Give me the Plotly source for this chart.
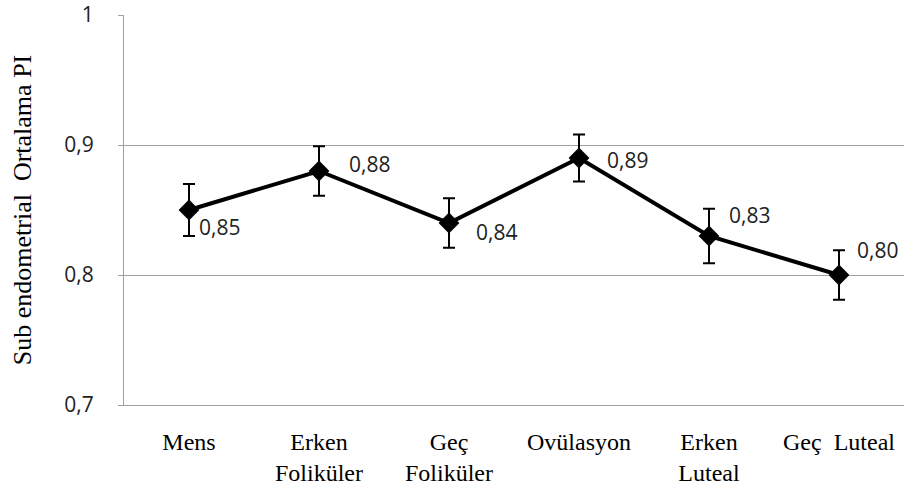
import plotly.graph_objects as go

# Cycle phases and mean sub-endometrial PI with error margins
phases = ["Mens", "Erken<br>Foliküler", "Geç<br>Foliküler", "Ovülasyon", "Erken<br>Luteal", "Geç  Luteal"]
mean_pi = [0.85, 0.88, 0.84, 0.89, 0.83, 0.80]
err_pi = [0.020, 0.019, 0.019, 0.018, 0.021, 0.019]
value_labels = ["0,85", "0,88", "0,84", "0,89", "0,83", "0,80"]

y_ticks = [0.7, 0.8, 0.9, 1.0]
y_tick_text = ["0,7", "0,8", "0,9", "1"]

# pixel offsets of each value label from its point (x right, y up)
label_dx = [8, 28, 25, 26, 18, 16]
label_dy = [-17, 7, -9, -2, 21, 25]

sans = "Open Sans, DejaVu Sans"
serif = "Liberation Serif, Times New Roman"

fig = go.Figure()
fig.add_trace(go.Scatter(
    x=phases, y=mean_pi,
    mode="lines+markers",
    line=dict(color="black", width=4),
    marker=dict(symbol="diamond", size=16, color="black"),
    error_y=dict(type="data", array=err_pi, color="black", thickness=2, width=6),
    showlegend=False,
))

for x, y, t, dx, dy in zip(phases, mean_pi, value_labels, label_dx, label_dy):
    fig.add_annotation(x=x, y=y, text=t, showarrow=False, xanchor="left", yanchor="middle",
                       xshift=dx, yshift=dy, font=dict(family=sans, size=21, color="#222"))

fig.update_layout(
    width=904, height=492,
    margin=dict(l=124, r=0, t=15, b=87),
    paper_bgcolor="white", plot_bgcolor="white",
    xaxis=dict(
        type="category", range=[-0.5, 5.5],
        showgrid=False, showline=True, linecolor="#a0a0a0", linewidth=1,
        ticks="outside", ticklen=15, tickcolor="white",
        tickfont=dict(family=serif, size=24, color="black"),
    ),
    yaxis=dict(
        range=[0.7, 1.0], tickvals=y_ticks, ticktext=y_tick_text,
        showgrid=True, gridcolor="#a0a0a0", gridwidth=1,
        showline=True, linecolor="#a0a0a0", linewidth=1,
        ticks="outside", ticklen=5, tickcolor="#a0a0a0",
        ticklabelstandoff=20,
        tickfont=dict(family=sans, size=21, color="#222"),
        title=dict(text="Sub endometrial  Ortalama PI", standoff=25,
                   font=dict(family=serif, size=26, color="black")),
        zeroline=False,
    ),
)

fig.write_html("out.html")
